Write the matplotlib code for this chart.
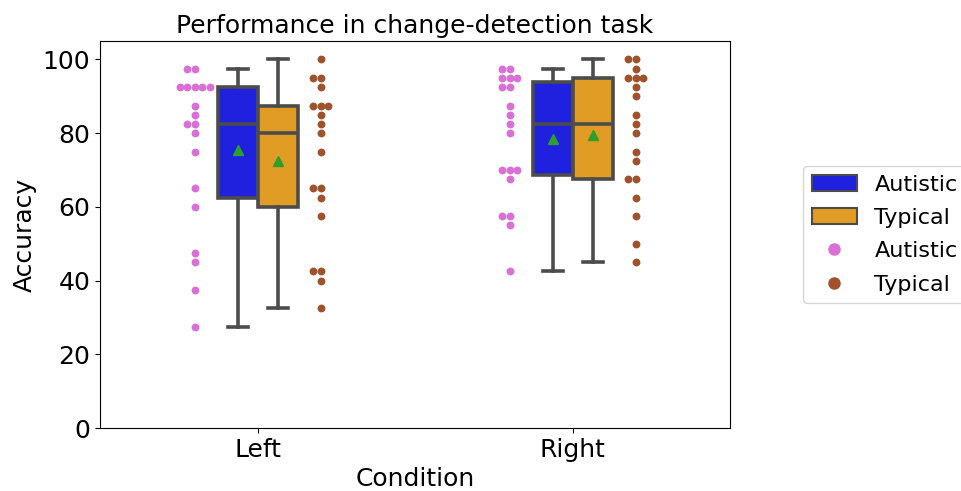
import numpy as np
import matplotlib
matplotlib.use("Agg")
import matplotlib.pyplot as plt
from matplotlib.patches import Patch
from matplotlib.lines import Line2D

conditions = ["Left", "Right"]
groups = ["Autistic", "Typical"]

left_autistic = [97.5, 97.5, 92.5, 92.5, 92.5, 92.5, 92.5, 87.5, 85, 82.5, 82.5, 80,
                 75, 65, 60, 47.5, 45, 37.5, 27.5]
left_typical = [100, 95, 95, 92.5, 87.5, 87.5, 87.5, 85, 82.5, 80, 75, 65, 65, 62.5,
                57.5, 42.5, 42.5, 40, 32.5]
right_autistic = [97.5, 97.5, 95, 95, 95, 92.5, 92.5, 87.5, 85, 82.5, 80, 70, 70, 70,
                  67.5, 57.5, 57.5, 55, 42.5]
right_typical = [100, 100, 97.5, 95, 95, 95, 92.5, 90, 85, 82.5, 80, 75, 72.5, 67.5,
                 67.5, 62.5, 57.5, 50, 45]

data = {("Left", "Autistic"): left_autistic, ("Left", "Typical"): left_typical,
        ("Right", "Autistic"): right_autistic, ("Right", "Typical"): right_typical}

box_colors = {"Autistic": "#2020df", "Typical": "#e09c24"}
pt_colors = {"Autistic": "#da70d6", "Typical": "#a0522d"}
edge = "#4c4c4c"

fig = plt.figure(figsize=(9.62, 4.91), dpi=100)
ax = fig.add_axes([0.104, 0.128, 0.655, 0.7885])

box_w = 0.127
for ci, cond in enumerate(conditions):
    for gi, g in enumerate(groups):
        vals = data[(cond, g)]
        pos = ci + (gi - 0.5) * box_w
        ax.boxplot([vals], positions=[pos], widths=box_w, patch_artist=True,
                   showmeans=True, showfliers=False, whis=1.5,
                   boxprops=dict(facecolor=box_colors[g], edgecolor=edge, linewidth=2.6),
                   medianprops=dict(color=edge, linewidth=2.6),
                   whiskerprops=dict(color=edge, linewidth=2.6),
                   capprops=dict(color=edge, linewidth=2.6),
                   meanprops=dict(marker="^", markerfacecolor="#2ca02c",
                                  markeredgecolor="#2ca02c", markersize=7.5),
                   zorder=3)
        # swarm-like points
        center = ci + (gi - 0.5) * 0.4
        d = 0.0238
        xs, ys = [], []
        uniq, counts = np.unique(vals, return_counts=True)
        order = [0, -1, 1, -2, 2, -3, 3]
        for u, c in zip(uniq, counts):
            for o in sorted(order[:c]):
                xs.append(center + o * d)
                ys.append(u)
        ax.scatter(xs, ys, s=32, color=pt_colors[g], zorder=4, linewidths=0)

ax.set_xlim(-0.5, 1.5)
ax.set_ylim(0, 105)
ax.set_xticks([0, 1])
ax.set_xticklabels(conditions)
ax.set_yticks([0, 20, 40, 60, 80, 100])
ax.tick_params(labelsize=18)
ax.set_xlabel("Condition", fontsize=18)
ax.set_ylabel("Accuracy", fontsize=18)
ax.set_title("Performance in change-detection task", fontsize=18)

handles = [Patch(facecolor=box_colors["Autistic"], edgecolor=edge, linewidth=1.5),
           Patch(facecolor=box_colors["Typical"], edgecolor=edge, linewidth=1.5),
           Line2D([], [], marker="o", linestyle="", color=pt_colors["Autistic"], markersize=8),
           Line2D([], [], marker="o", linestyle="", color=pt_colors["Typical"], markersize=8)]
ax.legend(handles, ["Autistic", "Typical", "Autistic", "Typical"], loc="center left",
          bbox_to_anchor=(1.116, 0.5), borderaxespad=0, fontsize=16, frameon=True,
          handlelength=2.0, handletextpad=0.8, labelspacing=0.6)

fig.savefig("out.png", dpi=100)
